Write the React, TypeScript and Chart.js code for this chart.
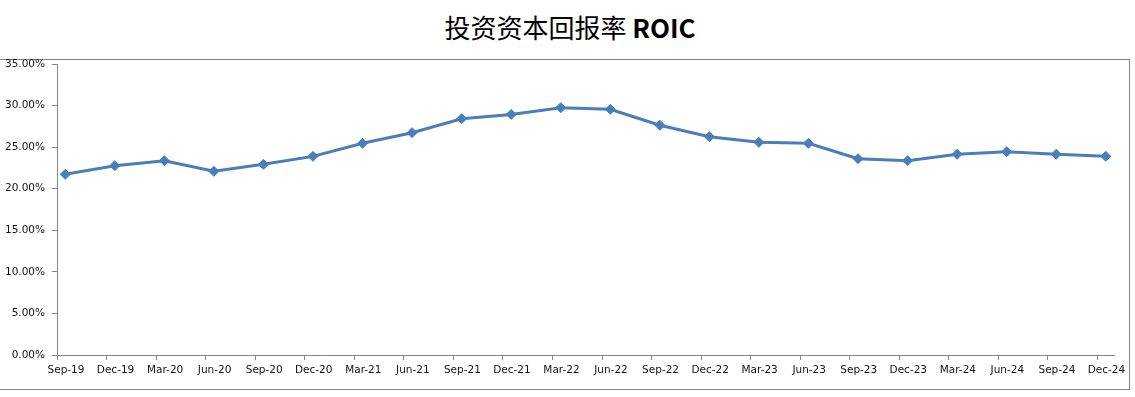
import React, { useEffect, useRef } from "react";
import { Chart, registerables } from "chart.js";

Chart.register(...registerables);

const categories = [
  "Sep-19", "Dec-19", "Mar-20", "Jun-20", "Sep-20", "Dec-20", "Mar-21", "Jun-21",
  "Sep-21", "Dec-21", "Mar-22", "Jun-22", "Sep-22", "Dec-22", "Mar-23", "Jun-23",
  "Sep-23", "Dec-23", "Mar-24", "Jun-24", "Sep-24", "Dec-24",
];

const roicValues = [
  21.73, 22.77, 23.37, 22.09, 22.93, 23.89, 25.46, 26.74, 28.42, 28.94, 29.74,
  29.55, 27.63, 26.26, 25.58, 25.46, 23.61, 23.37, 24.14, 24.45, 24.14, 23.9,
];

const yTicks = [0, 5, 10, 15, 20, 25, 30, 35];

const MONTHS_PER_CATEGORY = 3;
const TOTAL_MONTHS = categories.length * MONTHS_PER_CATEGORY - 2; // axis runs one month past last quarter

export default function App() {
  const canvasRef = useRef<HTMLCanvasElement | null>(null);

  useEffect(() => {
    document.body.style.margin = "0";
    const canvas = canvasRef.current;
    if (!canvas) return;
    const data = categories.map((c, i) => ({ x: i * MONTHS_PER_CATEGORY + 0.5, y: roicValues[i] }));
    const axisColor = "#868686";
    const font = { family: "DejaVu Sans", size: 10.5 };
    const chart = new Chart(canvas, {
      type: "line",
      data: {
        datasets: [
          {
            label: "ROIC",
            data,
            borderColor: "#4A7EBB",
            backgroundColor: "#4A7EBB",
            borderWidth: 3,
            pointStyle: "rectRot",
            pointRadius: 5,
            pointBorderWidth: 1,
            pointBackgroundColor: "#4A7EBB",
            pointBorderColor: "#4A7EBB",
            tension: 0,
          },
        ],
      },
      options: {
        animation: false,
        responsive: false,
        layout: { padding: { left: 0, right: 21, top: 64, bottom: 0 } },
        plugins: {
          legend: { display: false },
          title: { display: false },
          tooltip: { enabled: false },
        },
        scales: {
          x: {
            type: "linear",
            min: 0,
            max: TOTAL_MONTHS,
            afterBuildTicks: (scale: any) => {
              scale.ticks = categories.map((_, i) => ({ value: i * MONTHS_PER_CATEGORY }));
            },
            afterFit: (scale: any) => {
              scale.height = 42;
            },
            ticks: {
              autoSkip: false,
              maxRotation: 0,
              minRotation: 0,
              labelOffset: 9,
              padding: 4,
              color: "#111",
              font,
              callback: (v: any) => {
                const idx = Math.round(Number(v) / MONTHS_PER_CATEGORY);
                return categories[idx] ?? "";
              },
            },
            grid: {
              display: true,
              drawOnChartArea: false,
              drawTicks: true,
              tickLength: 5,
              color: axisColor,
            },
            border: { display: true, color: axisColor, width: 1 },
          },
          y: {
            min: 0,
            max: 35,
            afterBuildTicks: (scale: any) => {
              scale.ticks = yTicks.map((v) => ({ value: v }));
            },
            afterFit: (scale: any) => {
              scale.width = 57;
            },
            ticks: {
              padding: 7,
              color: "#111",
              font,
              callback: (v: any) => Number(v).toFixed(2) + "%",
            },
            grid: {
              display: true,
              drawOnChartArea: false,
              drawTicks: true,
              tickLength: 5,
              color: axisColor,
            },
            border: { display: true, color: axisColor, width: 1 },
          },
        },
      },
    });
    return () => chart.destroy();
  }, []);

  return (
    <div
      style={{
        position: "fixed",
        left: 0,
        top: 0,
        width: 1135,
        height: 397,
        background: "#fff",
        overflow: "hidden",
      }}
    >
      <div
        style={{
          position: "absolute",
          left: 0,
          top: 8,
          width: 1135,
          height: 38,
          lineHeight: "38px",
          textAlign: "center",
          fontFamily: "'Noto Sans CJK SC', 'Noto Sans', sans-serif",
          fontSize: 26,
          color: "#000",
          paddingLeft: 5,
          boxSizing: "border-box",
        }}
      >
        <span style={{ fontWeight: 400 }}>投资资本回报率 </span>
        <span style={{ fontWeight: 700 }}>ROIC</span>
      </div>
      <div
        style={{
          position: "absolute",
          left: -1,
          top: 59,
          width: 1131,
          height: 331,
          border: "1px solid #868686",
          boxSizing: "border-box",
        }}
      />
      <canvas
        ref={canvasRef}
        width={1135}
        height={397}
        style={{ position: "absolute", left: 0, top: 0, width: 1135, height: 397 }}
      />
    </div>
  );
}
